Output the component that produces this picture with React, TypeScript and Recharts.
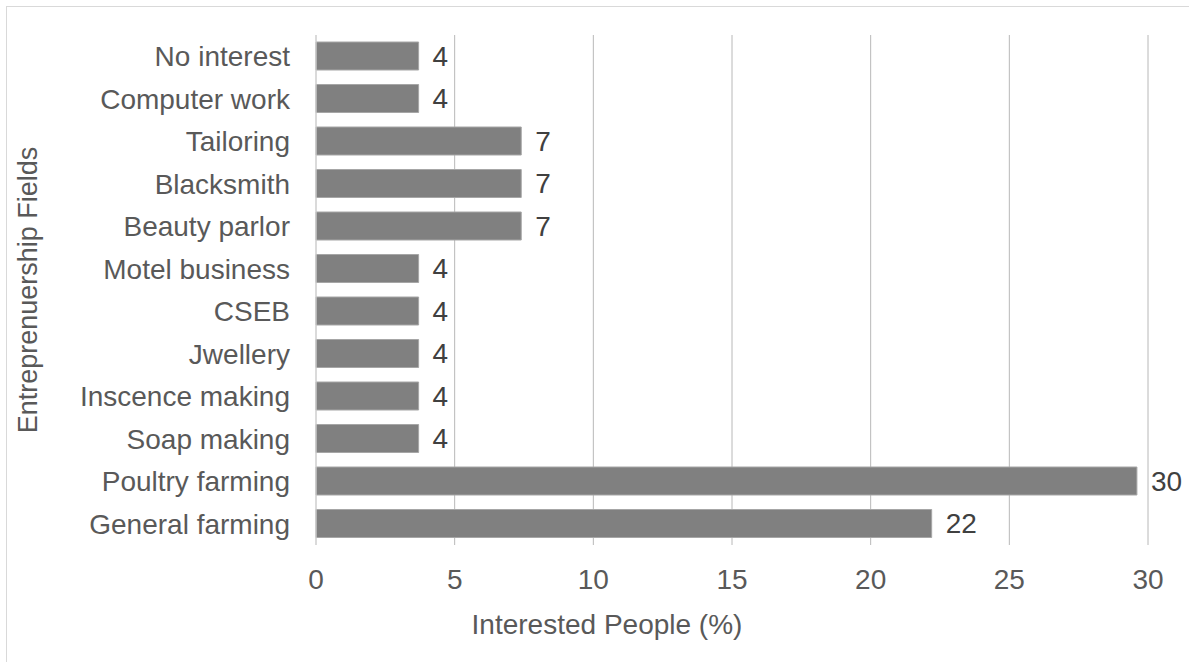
import React from 'react';
import { BarChart, Bar, XAxis, YAxis, CartesianGrid, LabelList } from 'recharts';

// top to bottom, as drawn
const fields = [
  'No interest',
  'Computer work',
  'Tailoring',
  'Blacksmith',
  'Beauty parlor',
  'Motel business',
  'CSEB',
  'Jwellery',
  'Inscence making',
  'Soap making',
  'Poultry farming',
  'General farming',
];
const interested = [3.7, 3.7, 7.4, 7.4, 7.4, 3.7, 3.7, 3.7, 3.7, 3.7, 29.6, 22.2];
const xTicks = [0, 5, 10, 15, 20, 25, 30];

const FONT = '"Liberation Sans", Arial, sans-serif';
const FS = 28;

const data = fields.map((name, i) => ({ name, value: interested[i] }));

const YTitle = (props: any) => {
  const vb = props.viewBox || {};
  const cx = 28;
  const cy = vb.y + vb.height / 2;
  return (
    <text
      x={cx}
      y={cy}
      transform={`rotate(-90 ${cx} ${cy})`}
      textAnchor="middle"
      dominantBaseline="central"
      fill="#595959"
      fontSize={27}
      fontFamily={FONT}
    >
      Entreprenuership Fields
    </text>
  );
};

const XTitle = () => (
  <text x={607} y={634} textAnchor="middle" fill="#595959" fontSize={FS} fontFamily={FONT}>
    Interested People (%)
  </text>
);

export default function App() {
  return (
    <div style={{ position: 'absolute', left: 0, top: 0, width: 1189, height: 662, overflow: 'hidden', background: '#fff' }}>
      <div
        style={{
          position: 'absolute',
          left: 6,
          top: 6,
          width: 1400,
          height: 900,
          border: '1px solid #d9d9d9',
        }}
      />
      <div style={{ position: 'absolute', left: 0, top: 0 }}>
        <BarChart
          width={1189}
          height={662}
          data={data}
          layout="vertical"
          margin={{ top: 35, right: 41, left: 10, bottom: 0 }}
        >
          <CartesianGrid horizontal={false} stroke="#b8b8b8" />
          <XAxis
            type="number"
            domain={[0, 30]}
            ticks={xTicks}
            height={117}
            axisLine={false}
            tickLine={false}
            tickSize={0}
            tickMargin={24}
            tick={{ fill: '#595959', fontSize: FS, fontFamily: FONT }}
            label={{ content: XTitle }}
          />
          <YAxis
            type="category"
            dataKey="name"
            width={306}
            axisLine={{ stroke: '#d9d9d9' }}
            tickLine={false}
            tickSize={0}
            tickMargin={26}
            interval={0}
            tick={{ fill: '#595959', fontSize: FS, fontFamily: FONT }}
            label={{ content: YTitle }}
          />
          <Bar dataKey="value" fill="#808080" stroke="#a6a6a6" strokeWidth={1} barSize={28} isAnimationActive={false}>
            <LabelList
              dataKey="value"
              position="right"
              offset={14}
              formatter={(v: any) => Math.round(Number(v))}
              fill="#404040"
              fontSize={FS}
              fontFamily={FONT}
            />
          </Bar>
        </BarChart>
      </div>
    </div>
  );
}
